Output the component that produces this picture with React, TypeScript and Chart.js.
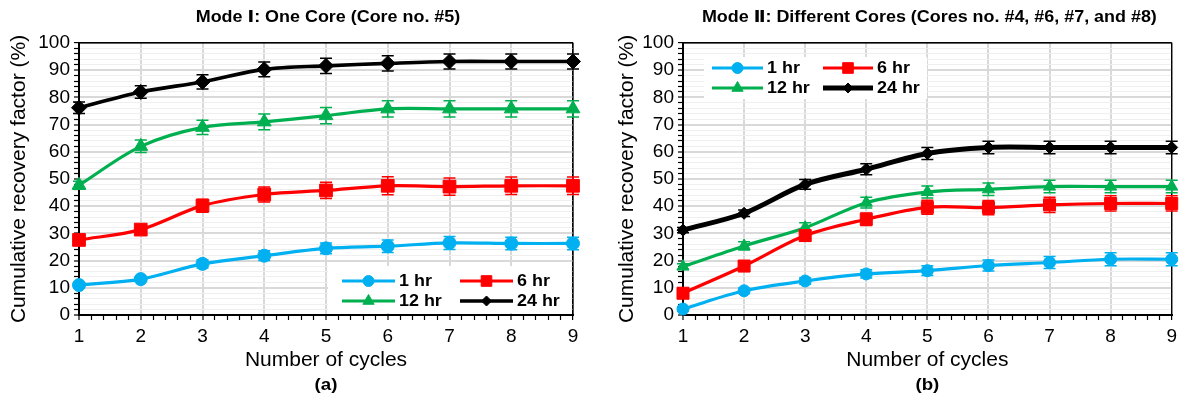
import React, { useEffect, useRef } from "react";
import { Chart, registerables } from "chart.js";
import { drawPoint } from "chart.js/helpers";
Chart.register(...registerables);

const FONT = "'Liberation Sans', Arial, 'DejaVu Sans', sans-serif";

const cycles = [1, 2, 3, 4, 5, 6, 7, 8, 9];
const xTickLabels = ["1", "2", "3", "4", "5", "6", "7", "8", "9"];
const yTickLabels = ["0", "10", "20", "30", "40", "50", "60", "70", "80", "90", "100"];
const seriesNames = ["1 hr", "6 hr", "12 hr", "24 hr"];
const seriesColors = ["#00B0F0", "#FF0000", "#00B050", "#000000"];
const pointStyles = ["circle", "rect", "triangle", "rectRot"];

// Mode I: One Core (Core no. #5)
const modeI_1hr = [11.0, 13.2, 18.8, 21.8, 24.5, 25.3, 26.5, 26.3, 26.3];
const modeI_6hr = [27.6, 31.4, 40.2, 44.3, 45.8, 47.5, 47.2, 47.5, 47.5];
const modeI_12hr = [47.7, 62.0, 69.0, 71.0, 73.3, 75.8, 75.8, 75.8, 75.8];
const modeI_24hr = [76.2, 82.0, 85.7, 90.3, 91.6, 92.5, 93.2, 93.2, 93.2];
const modeI_1hr_err = [0.6, 0.8, 1.5, 1.8, 2.0, 2.3, 2.4, 2.3, 2.3];
const modeI_6hr_err = [1.2, 1.3, 2.4, 2.8, 3.0, 3.3, 3.2, 3.2, 3.2];
const modeI_12hr_err = [1.5, 2.3, 2.6, 2.9, 3.0, 3.0, 3.0, 3.0, 3.0];
const modeI_24hr_err = [2.1, 2.3, 2.6, 2.7, 2.8, 2.8, 2.8, 2.8, 2.8];

// Mode II: Different Cores (Cores no. #4, #6, #7, and #8)
const modeII_1hr = [2.2, 8.9, 12.5, 15.1, 16.3, 18.2, 19.3, 20.5, 20.5];
const modeII_6hr = [8.0, 18.0, 29.2, 35.2, 39.6, 39.5, 40.5, 41.0, 41.0];
const modeII_12hr = [17.8, 25.4, 32.1, 41.3, 45.2, 46.2, 47.2, 47.2, 47.2];
const modeII_24hr = [31.2, 37.4, 48.0, 53.6, 59.4, 61.6, 61.6, 61.6, 61.6];
const modeII_1hr_err = [0.8, 1.0, 1.2, 1.5, 1.8, 2.0, 2.2, 2.4, 2.4];
const modeII_6hr_err = [1.0, 1.5, 2.0, 2.3, 2.6, 2.6, 2.8, 2.8, 2.8];
const modeII_12hr_err = [1.0, 1.5, 1.8, 2.0, 2.2, 2.3, 2.3, 2.3, 2.3];
const modeII_24hr_err = [1.0, 1.2, 1.8, 2.0, 2.2, 2.3, 2.3, 2.3, 2.3];

type LegendCfg = {
  box: [number, number, number, number];
  rows: [number, number];
  cols: { x0: number; x1: number; tx: number }[];
  lineWidths: number[];
  radii: number[];
};

type PanelCfg = {
  left: number;
  width: number;
  padRight: number;
  axisWidth: number;
  yTitlePad: number;
  title: string;
  letter: string;
  series: number[][];
  errors: number[][];
  lineWidths: number[];
  radii: number[];
  legend: LegendCfg;
};

const panels: PanelCfg[] = [
  {
    left: 0,
    width: 600,
    padRight: 27,
    axisWidth: 79,
    yTitlePad: 6.4,
    title: "Mode \u2160: One Core (Core no. #5)",
    letter: "(a)",
    series: [modeI_1hr, modeI_6hr, modeI_12hr, modeI_24hr],
    errors: [modeI_1hr_err, modeI_6hr_err, modeI_12hr_err, modeI_24hr_err],
    lineWidths: [3.2, 3.2, 3.2, 3.6],
    radii: [6.5, 9, 8, 7.5],
    legend: {
      box: [328, 266, 243, 47],
      rows: [281, 301],
      cols: [
        { x0: 342, x1: 395, tx: 399 },
        { x0: 460, x1: 513, tx: 517 },
      ],
      lineWidths: [3, 3, 3, 3.5],
      radii: [5.5, 7.5, 6.5, 5],
    },
  },
  {
    left: 600,
    width: 582,
    padRight: 6,
    axisWidth: 83,
    yTitlePad: 14.4,
    title: "Mode \u2161: Different Cores (Cores no. #4, #6, #7, and #8)",
    letter: "(b)",
    series: [modeII_1hr, modeII_6hr, modeII_12hr, modeII_24hr],
    errors: [modeII_1hr_err, modeII_6hr_err, modeII_12hr_err, modeII_24hr_err],
    lineWidths: [3.2, 3.2, 3.2, 5],
    radii: [6, 8.5, 7, 6],
    legend: {
      box: [104, 57, 223, 42],
      rows: [68, 88],
      cols: [
        { x0: 112, x1: 163, tx: 167 },
        { x0: 223, x1: 273, tx: 277 },
      ],
      lineWidths: [3, 3, 3, 5],
      radii: [5.5, 7.5, 6.5, 5],
    },
  },
];

const isInt = (v: number) => Math.abs(v - Math.round(v)) < 1e-6;

function drawStretchedText(
  ctx: CanvasRenderingContext2D,
  text: string,
  x: number,
  y: number,
  font: string,
  align: CanvasTextAlign,
  sx: number
) {
  ctx.save();
  ctx.font = font;
  ctx.fillStyle = "#000";
  ctx.textAlign = align;
  ctx.textBaseline = "middle";
  ctx.translate(x, y);
  ctx.scale(sx, 1);
  ctx.fillText(text, 0, 0);
  ctx.restore();
}

function ChartPanel({ cfg }: { cfg: PanelCfg }) {
  const ref = useRef<HTMLCanvasElement | null>(null);
  useEffect(() => {
    const canvas = ref.current;
    if (!canvas) return;

    const deco = {
      id: "deco",
      beforeDatasetsDraw(chart: any) {
        const ctx: CanvasRenderingContext2D = chart.ctx;
        const a = chart.chartArea;
        ctx.save();
        ctx.strokeStyle = "#000";
        ctx.lineWidth = 1.2;
        ctx.beginPath();
        ctx.moveTo(a.left, a.top);
        ctx.lineTo(a.right, a.top);
        ctx.lineTo(a.right, a.bottom);
        ctx.stroke();
        ctx.restore();
      },
      afterDatasetDraw(chart: any, args: any) {
        const i = args.index;
        const meta = args.meta;
        const ys = chart.scales.y;
        const ctx: CanvasRenderingContext2D = chart.ctx;
        ctx.save();
        ctx.strokeStyle = seriesColors[i];
        ctx.lineWidth = 1.5;
        meta.data.forEach((pt: any, j: number) => {
          const v = cfg.series[i][j];
          const e = cfg.errors[i][j];
          const yTop = ys.getPixelForValue(v + e);
          const yBot = ys.getPixelForValue(v - e);
          const x = pt.x;
          ctx.beginPath();
          ctx.moveTo(x, yTop);
          ctx.lineTo(x, yBot);
          ctx.moveTo(x - 6, yTop);
          ctx.lineTo(x + 6, yTop);
          ctx.moveTo(x - 6, yBot);
          ctx.lineTo(x + 6, yBot);
          ctx.stroke();
        });
        ctx.restore();
      },
      afterDraw(chart: any) {
        const ctx: CanvasRenderingContext2D = chart.ctx;
        const area = chart.chartArea;
        const cx = (area.left + area.right) / 2;
        drawStretchedText(ctx, cfg.title, cx + 2, 18, `bold 16px ${FONT}`, "center", 1.12);
        drawStretchedText(ctx, cfg.letter, cx, 385, `bold 17px ${FONT}`, "center", 1.1);
        const lg = cfg.legend;
        ctx.save();
        ctx.fillStyle = "#fff";
        ctx.fillRect(lg.box[0], lg.box[1], lg.box[2], lg.box[3]);
        ctx.restore();
        seriesNames.forEach((name, i) => {
          const row = lg.rows[Math.floor(i / 2)];
          const col = lg.cols[i % 2];
          ctx.save();
          ctx.strokeStyle = seriesColors[i];
          ctx.fillStyle = seriesColors[i];
          ctx.lineWidth = lg.lineWidths[i];
          ctx.beginPath();
          ctx.moveTo(col.x0, row);
          ctx.lineTo(col.x1, row);
          ctx.stroke();
          ctx.lineWidth = 1;
          drawPoint(
            ctx,
            { pointStyle: pointStyles[i] as any, radius: lg.radii[i], rotation: 0, borderWidth: 1 } as any,
            (col.x0 + col.x1) / 2,
            row
          );
          ctx.restore();
          drawStretchedText(ctx, name, col.tx, row + 1, `bold 16px ${FONT}`, "left", 1.12);
        });
      },
    };

    const chart = new Chart(canvas, {
      type: "line",
      data: {
        datasets: cfg.series.map((vals, i) => ({
          label: seriesNames[i],
          data: cycles.map((c, j) => ({ x: c, y: vals[j] })),
          borderColor: seriesColors[i],
          backgroundColor: seriesColors[i],
          pointBackgroundColor: seriesColors[i],
          pointBorderColor: seriesColors[i],
          borderWidth: cfg.lineWidths[i],
          pointStyle: pointStyles[i] as any,
          pointRadius: cfg.radii[i],
          pointBorderWidth: 1,
          tension: 0.33,
          clip: false as any,
        })),
      },
      options: {
        responsive: false,
        animation: false,
        devicePixelRatio: 1,
        layout: { padding: { top: 43, right: cfg.padRight, bottom: 0, left: 0 } },
        plugins: {
          legend: { display: false },
          tooltip: { enabled: false },
          title: { display: false },
        },
        scales: {
          x: {
            type: "linear",
            min: 1,
            max: 9,
            afterFit: (s: any) => {
              s.height = 82;
            },
            ticks: {
              stepSize: 0.2,
              autoSkip: false,
              maxRotation: 0,
              minRotation: 0,
              padding: 5,
              color: "#000",
              font: { family: FONT, size: 19 },
              callback: (v: any) => (isInt(Number(v)) ? xTickLabels[Math.round(Number(v)) - 1] : ""),
            },
            grid: {
              color: (c: any) => {
                const v = c.tick ? c.tick.value : NaN;
                if (Math.abs(v - 9) < 1e-6) return "#000";
                if (isInt(v)) return "#d9d9d9";
                return "rgba(0,0,0,0)";
              },
              lineWidth: (c: any) => {
                const v = c.tick ? c.tick.value : NaN;
                if (Math.abs(v - 9) < 1e-6) return 1.2;
                return isInt(v) ? 2 : 1;
              },
              tickColor: "#000",
              tickLength: 5,
              tickWidth: 1.2,
            },
            border: { color: "#000", width: 2 },
            title: {
              display: true,
              text: "Number of cycles",
              color: "#000",
              font: { family: FONT, size: 21, lineHeight: 1.2 },
              padding: { top: 0, bottom: 24 },
            },
          },
          y: {
            min: 0,
            max: 100,
            afterFit: (s: any) => {
              s.width = cfg.axisWidth;
            },
            ticks: {
              stepSize: 2,
              autoSkip: false,
              padding: 4,
              color: "#000",
              font: { family: FONT, size: 19 },
              callback: (v: any) => {
                const n = Math.round(Number(v));
                return n % 10 === 0 ? yTickLabels[n / 10] : "";
              },
            },
            grid: {
              color: (c: any) => {
                const v = c.tick ? Math.round(c.tick.value) : NaN;
                if (v === 100) return "#000";
                if (v % 10 === 0) return "#d9d9d9";
                return "#efefef";
              },
              lineWidth: (c: any) => {
                const v = c.tick ? Math.round(c.tick.value) : NaN;
                if (v === 100) return 1.2;
                return v % 10 === 0 ? 2 : 1;
              },
              tickColor: "#000",
              tickLength: 5,
              tickWidth: 1.2,
            },
            border: { color: "#000", width: 2 },
            title: {
              display: true,
              text: "Cumulative recovery factor (%)",
              color: "#000",
              font: { family: FONT, size: 21, lineHeight: 1.2 },
              padding: { top: cfg.yTitlePad, bottom: 0 },
            },
          },
        },
      },
      plugins: [deco],
    } as any);
    return () => chart.destroy();
  }, [cfg]);

  return (
    <canvas
      ref={ref}
      width={cfg.width}
      height={397}
      style={{ position: "absolute", left: cfg.left, top: 0, width: cfg.width, height: 397 }}
    />
  );
}

export default function App() {
  return (
    <div style={{ position: "absolute", left: 0, top: 0, width: 1182, height: 397, background: "#fff" }}>
      {panels.map((p, i) => (
        <ChartPanel key={i} cfg={p} />
      ))}
    </div>
  );
}
